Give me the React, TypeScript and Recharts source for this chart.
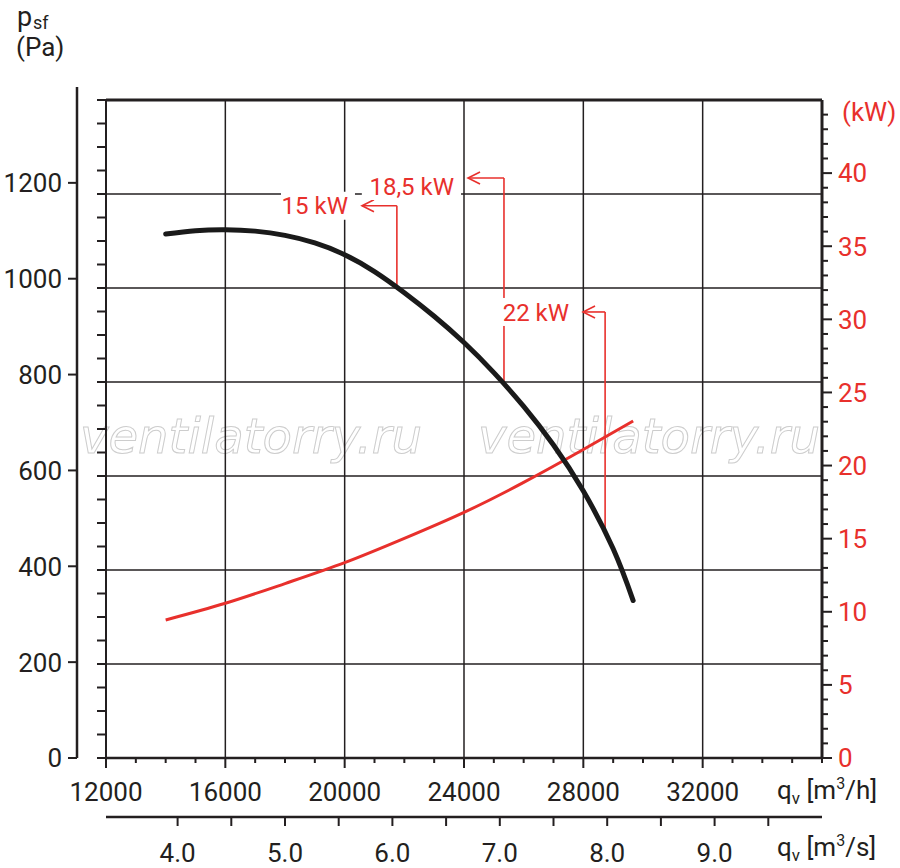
import React from "react";
import {
  ComposedChart,
  Line,
  XAxis,
  YAxis,
  ReferenceLine,
  ReferenceDot,
} from "recharts";

const FONT = "Roboto, 'DejaVu Sans', sans-serif";
const INK = "#231f20";
const RED = "#e8302c";

// fan curve: static pressure p_sf (Pa) against flow q_v (m3/h)
const flowP = [14000, 15000, 16000, 17000, 18000, 19000, 20000, 21000, 22000, 23000, 24000, 25000, 26000, 27000, 28000, 29000, 29670];
const pressure = [1115, 1122, 1124, 1121, 1112, 1096, 1071, 1035, 990, 940, 884, 820, 748, 666, 568, 445, 335];

// absorbed power (kW)
const flowN = [14000, 16000, 18000, 20000, 22000, 24000, 26000, 28000, 29670];
const power = [9.44, 10.58, 11.93, 13.36, 15.02, 16.8, 18.85, 21.1, 23.05];

// axis ticks
const qMajor = [12000, 16000, 20000, 24000, 28000, 32000];
const qGrid = [16000, 20000, 24000, 28000, 32000];
const paLabels = [0, 200, 400, 600, 800, 1000, 1200];
const paGrid = [200, 400, 600, 800, 1000, 1200];
const kwLabels = [0, 5, 10, 15, 20, 25, 30, 35, 40];
const sLabels = [4, 5, 6, 7, 8, 9];

// motor size call-outs
const annoText = ["15 kW", "18,5 kW", "22 kW"];
const annoQ = [21750, 25340, 28730];
const annoP = [1000, 800, 480];
const annoTopP = [1175, 1234, 949];
const annoTipQ = [20580, 24135, 27990];
const annoTextP = [1175, 1217, 949];

const pressureData = flowP.map((q, i) => ({ q, p: pressure[i] }));
const powerData = flowN.map((q, i) => ({ q, n: power[i] }));

const qTicks = Array.from({ length: 25 }, (_, i) => 12000 + i * 1000);
const paTicks = Array.from({ length: 29 }, (_, i) => i * 50);
const kwTicks = Array.from({ length: 45 }, (_, i) => i);
// m3/s ticks, placed on the m3/h scale
const sTicks = Array.from({ length: 12 }, (_, i) => (4 + i * 0.5) * 3600);

function NoTick() {
  return <g />;
}

function QTick(props: any) {
  const { x, y, payload } = props;
  const v = payload.value;
  const major = qMajor.includes(v);
  return (
    <g>
      <line x1={x} x2={x} y1={y} y2={y + (major ? 10 : 5)} stroke={INK} strokeWidth={2} />
      {major && (
        <text x={x} y={y + 43} textAnchor="middle" fontSize={26} fill={INK} fontFamily={FONT}>
          {v}
        </text>
      )}
    </g>
  );
}

function STick(props: any) {
  const { x, y, payload } = props;
  const s = payload.value / 3600;
  const major = sLabels.includes(s);
  return (
    <g>
      <line x1={x} x2={x} y1={y} y2={y + 9} stroke={INK} strokeWidth={2} />
      {major && (
        <text x={x} y={y + 45} textAnchor="middle" fontSize={26} fill={INK} fontFamily={FONT}>
          {s.toFixed(1)}
        </text>
      )}
    </g>
  );
}

function PaTick(props: any) {
  const { x, y, payload } = props;
  return (
    <g>
      <line x1={x} x2={x - 9} y1={y} y2={y} stroke={INK} strokeWidth={2} />
      <text x={x - 15} y={y} dy="0.36em" textAnchor="end" fontSize={26} fill={INK} fontFamily={FONT}>
        {payload.value}
      </text>
    </g>
  );
}

function KwTick(props: any) {
  const { x, y, payload } = props;
  const v = payload.value;
  const major = kwLabels.includes(v);
  return (
    <g>
      <line x1={x} x2={x + (major ? 10 : 6)} y1={y} y2={y} stroke={INK} strokeWidth={2} />
      {major && (
        <text x={x + 16} y={y} dy="0.36em" textAnchor="start" fontSize={26} fill={RED} fontFamily={FONT}>
          {v}
        </text>
      )}
    </g>
  );
}

function ArrowTip(props: any) {
  const { cx, cy } = props;
  return (
    <path
      d={`M${cx + 12},${cy - 6} L${cx},${cy} L${cx + 12},${cy + 6}`}
      fill="none"
      stroke={RED}
      strokeWidth={1.6}
    />
  );
}

function makeTag(label: string) {
  return function Tag(props: any) {
    const { cx, cy } = props;
    const w = label.length * 12.6 + 10;
    return (
      <g>
        <rect x={cx - 8 - w} y={cy - 14} width={w + 1} height={28} fill="#fff" />
        <text x={cx - 14} y={cy} dy="0.36em" textAnchor="end" fontSize={24} fill={RED} fontFamily={FONT}>
          {label}
        </text>
      </g>
    );
  };
}

export default function App() {
  return (
    <div style={{ position: "absolute", left: 0, top: 0, width: 900, height: 868, background: "#fff" }}>
      <svg width={900} height={868} style={{ position: "absolute", left: 0, top: 0 }}>
        {[80, 478].map((wx) => (
          <text
            key={wx}
            x={wx}
            y={453}
            fontSize={48}
            fontStyle="italic"
            fontFamily="'DejaVu Sans', sans-serif"
            fill="none"
            stroke="#cdcdcd"
            strokeWidth={1}
            textLength={342}
            lengthAdjust="spacingAndGlyphs"
          >
            ventilatorry.ru
          </text>
        ))}
      </svg>
      <div style={{ position: "absolute", left: 0, top: 0 }}>
        <ComposedChart
          width={900}
          height={868}
          data={pressureData}
          margin={{ top: 87, right: 0, bottom: 0, left: 0 }}
        >
          <XAxis
            xAxisId="h"
            type="number"
            dataKey="q"
            domain={[12000, 36000]}
            allowDataOverflow
            ticks={qTicks}
            interval={0}
            tick={<QTick />}
            tickLine={false}
            tickSize={0}
            tickMargin={0}
            height={59}
            axisLine={{ stroke: INK, strokeWidth: 2.5 }}
          />
          <XAxis
            xAxisId="s"
            type="number"
            dataKey="q"
            domain={[12000, 36000]}
            allowDataOverflow
            ticks={sTicks}
            interval={0}
            tick={<STick />}
            tickLine={false}
            tickSize={0}
            tickMargin={0}
            height={51}
            axisLine={{ stroke: INK, strokeWidth: 2.5 }}
          />
          <YAxis
            yAxisId="inner"
            type="number"
            domain={[0, 1427.66]}
            allowDataOverflow
            ticks={paTicks}
            interval={0}
            width={29}
            axisLine={false}
            tickSize={9}
            tickLine={{ stroke: INK, strokeWidth: 2 }}
            tick={<NoTick />}
          />
          <YAxis
            yAxisId="outer"
            type="number"
            domain={[0, 1400]}
            allowDataOverflow
            ticks={paLabels}
            interval={0}
            width={77}
            tick={<PaTick />}
            tickLine={false}
            tickSize={0}
            tickMargin={0}
            axisLine={{ stroke: INK, strokeWidth: 2.5 }}
          />
          <YAxis
            yAxisId="kw"
            orientation="right"
            type="number"
            domain={[0, 45.889]}
            allowDataOverflow
            ticks={kwTicks}
            interval={0}
            width={78}
            tick={<KwTick />}
            tickLine={false}
            tickSize={0}
            tickMargin={0}
            axisLine={false}
          />

          {qGrid.map((q) => (
            <ReferenceLine
              key={`v${q}`}
              xAxisId="h"
              yAxisId="inner"
              segment={[{ x: q, y: 0 }, { x: q, y: 1400 }]}
              stroke={INK}
              strokeWidth={1.5}
            />
          ))}
          {paGrid.map((p) => (
            <ReferenceLine
              key={`h${p}`}
              xAxisId="h"
              yAxisId="inner"
              segment={[{ x: 12000, y: p }, { x: 36000, y: p }]}
              stroke={INK}
              strokeWidth={1.5}
            />
          ))}
          <ReferenceLine
            xAxisId="h"
            yAxisId="inner"
            segment={[{ x: 12000, y: 0 }, { x: 12000, y: 1400 }]}
            stroke={INK}
            strokeWidth={2}
          />
          <ReferenceLine
            xAxisId="h"
            yAxisId="inner"
            segment={[{ x: 36000, y: 0 }, { x: 36000, y: 1400 }]}
            stroke={INK}
            strokeWidth={3}
          />
          <ReferenceLine
            xAxisId="h"
            yAxisId="inner"
            segment={[{ x: 12000, y: 1400 }, { x: 36000, y: 1400 }]}
            stroke={INK}
            strokeWidth={3}
          />

          {annoText.map((t, i) => (
            <ReferenceLine
              key={`av${t}`}
              xAxisId="h"
              yAxisId="inner"
              segment={[{ x: annoQ[i], y: annoP[i] }, { x: annoQ[i], y: annoTopP[i] }]}
              stroke={RED}
              strokeWidth={1.6}
            />
          ))}
          {annoText.map((t, i) => (
            <ReferenceLine
              key={`ah${t}`}
              xAxisId="h"
              yAxisId="inner"
              segment={[{ x: annoTipQ[i], y: annoTopP[i] }, { x: annoQ[i], y: annoTopP[i] }]}
              stroke={RED}
              strokeWidth={1.6}
            />
          ))}
          {annoText.map((t, i) => (
            <ReferenceDot
              key={`at${t}`}
              xAxisId="h"
              yAxisId="inner"
              x={annoTipQ[i]}
              y={annoTopP[i]}
              r={0}
              shape={<ArrowTip />}
            />
          ))}
          {annoText.map((t, i) => (
            <ReferenceDot
              key={`al${t}`}
              xAxisId="h"
              yAxisId="inner"
              x={annoTipQ[i]}
              y={annoTextP[i]}
              r={0}
              shape={makeTag(t)}
            />
          ))}

          <Line
            xAxisId="h"
            yAxisId="kw"
            data={powerData}
            dataKey="n"
            type="natural"
            stroke={RED}
            strokeWidth={3}
            dot={false}
            activeDot={false}
            isAnimationActive={false}
          />
          <Line
            xAxisId="h"
            yAxisId="inner"
            data={pressureData}
            dataKey="p"
            type="natural"
            stroke="#1a1a1a"
            strokeWidth={5}
            strokeLinecap="round"
            dot={false}
            activeDot={false}
            isAnimationActive={false}
          />
        </ComposedChart>
      </div>
      <svg
        width={900}
        height={868}
        style={{ position: "absolute", left: 0, top: 0, pointerEvents: "none" }}
        fontFamily={FONT}
        fontSize={26}
        fill={INK}
      >
        <text x={17} y={26} fontSize={27}>p</text>
        <text x={33} y={29} fontSize={18}>sf</text>
        <text x={16} y={56}>(Pa)</text>
        <text x={842} y={121} fill={RED}>(kW)</text>
        <text x={777} y={799}>
          q<tspan fontSize={17} dy={5}>v</tspan>
          <tspan dy={-5}> [m</tspan>
          <tspan fontSize={16} dy={-10}>3</tspan>
          <tspan dy={10}>/h]</tspan>
        </text>
        <text x={777} y={856}>
          q<tspan fontSize={17} dy={5}>v</tspan>
          <tspan dy={-5}> [m</tspan>
          <tspan fontSize={16} dy={-10}>3</tspan>
          <tspan dy={10}>/s]</tspan>
        </text>
      </svg>
    </div>
  );
}
